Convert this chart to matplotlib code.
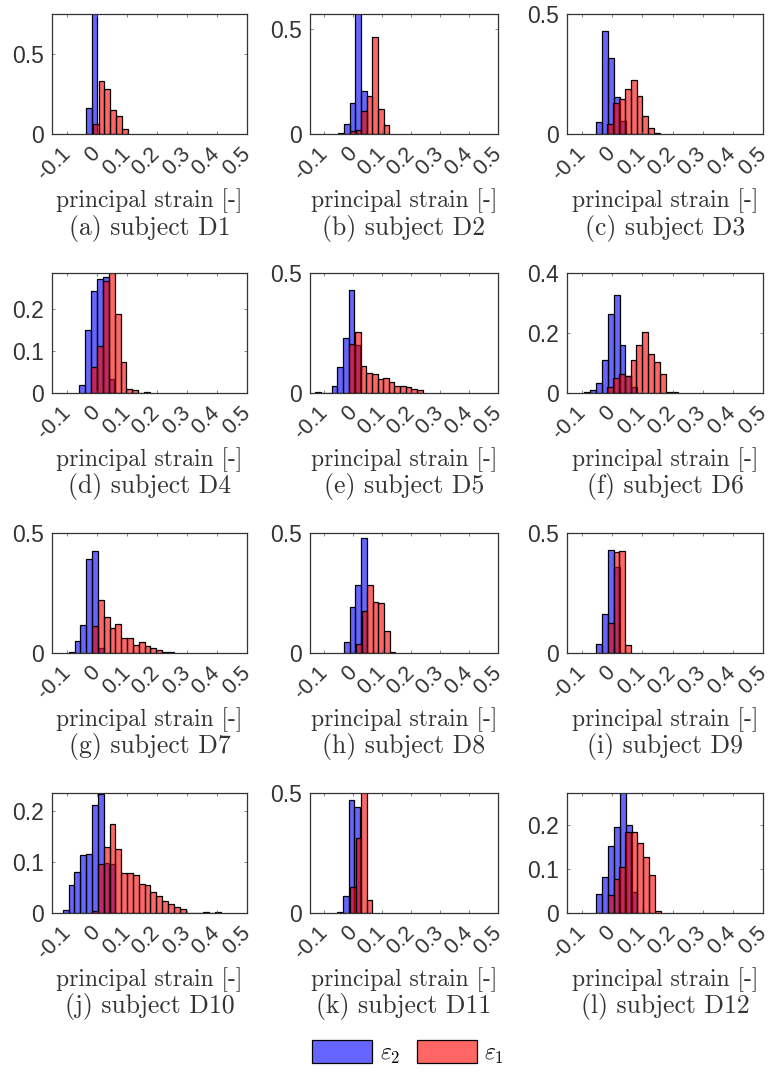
import matplotlib.pyplot as plt
from matplotlib.patches import Patch

plt.rcParams["mathtext.fontset"] = "cm"

BIN_W = 0.0195

# bin probabilities (histogram, probability normalisation); eps2 = min, eps1 = max principal strain
D1_E2 = [0.164, 0.836]
D1_E1 = [0.06, 0.33, 0.28, 0.147, 0.11, 0.034]
D2_E2 = [0.004, 0.048, 0.149, 0.595, 0.204]
D2_E1 = [0.015, 0.02, 0.109, 0.18, 0.463, 0.117, 0.045]
D3_E2 = [0.049, 0.43, 0.316, 0.154, 0.053]
D3_E1 = [0.04, 0.13, 0.145, 0.187, 0.226, 0.159, 0.074, 0.025, 0.003]
D4_E2 = [0.019, 0.151, 0.245, 0.273, 0.278, 0.034]
D4_E1 = [0.063, 0.112, 0.267, 0.29, 0.188, 0.073, 0.01, 0.006, 0.0, 0.003]
D5_E2 = [0.005, 0.0, 0.0, 0.03, 0.107, 0.228, 0.429, 0.2]
D5_E1 = [0.204, 0.256, 0.111, 0.083, 0.079, 0.058, 0.061, 0.047, 0.031, 0.031,
         0.024, 0.017, 0.0125]
D6_E2 = [0.004, 0.011, 0.035, 0.109, 0.265, 0.326, 0.16, 0.057, 0.019]
D6_E1 = [0.019, 0.049, 0.064, 0.057, 0.109, 0.16, 0.205, 0.131, 0.102, 0.063,
         0.004, 0.002]
D7_E2 = [0.004, 0.048, 0.115, 0.39, 0.424, 0.02]
D7_E1 = [0.113, 0.221, 0.149, 0.104, 0.12, 0.062, 0.062, 0.032, 0.044, 0.028,
         0.021, 0.011, 0.003, 0.003]
D8_E2 = [0.044, 0.19, 0.283, 0.479]
D8_E1 = [0.039, 0.173, 0.283, 0.214, 0.207, 0.09, 0.004]
D9_E2 = [0.039, 0.163, 0.431, 0.36]
D9_E1 = [0.124, 0.421, 0.425, 0.035]
D10_E2 = [0.0066, 0.055, 0.08, 0.115, 0.117, 0.213, 0.235, 0.098, 0.097]
D10_E1 = [0.003, 0.096, 0.129, 0.176, 0.125, 0.078, 0.079, 0.075, 0.058, 0.055,
          0.042, 0.034, 0.024, 0.018, 0.012, 0.007, 0.0, 0.0, 0.0, 0.002, 0.0, 0.002]
D11_E2 = [0.004, 0.071, 0.472, 0.441]
D11_E1 = [0.109, 0.311, 0.524, 0.056]
D12_E2 = [0.043, 0.081, 0.153, 0.195, 0.28, 0.2, 0.048]
D12_E1 = [0.04, 0.078, 0.105, 0.183, 0.183, 0.158, 0.128, 0.087, 0.004]

E2 = [D1_E2, D2_E2, D3_E2, D4_E2, D5_E2, D6_E2, D7_E2, D8_E2, D9_E2, D10_E2, D11_E2, D12_E2]
E1 = [D1_E1, D2_E1, D3_E1, D4_E1, D5_E1, D6_E1, D7_E1, D8_E1, D9_E1, D10_E1, D11_E1, D12_E1]

# left edge of the first bin of each histogram
E2_START = [-0.0378, -0.052, -0.053, -0.059, -0.133, -0.0925, -0.0944, -0.0326,
            -0.0528, -0.1144, -0.0556, -0.0528]
E1_START = [-0.0144, -0.012, -0.017, -0.019, -0.014, -0.0174, -0.0167, 0.0088,
            -0.015, -0.0167, -0.012, -0.015]

Y_TOP = [0.75, 0.57, 0.5, 0.287, 0.5, 0.4, 0.5, 0.5, 0.5, 0.236, 0.5, 0.272]
Y_TICKS = [[0, 0.5], [0, 0.5], [0, 0.5], [0, 0.1, 0.2], [0, 0.5], [0, 0.2, 0.4],
           [0, 0.5], [0, 0.5], [0, 0.5], [0, 0.1, 0.2], [0, 0.5], [0, 0.1, 0.2]]
X_TICKS = [-0.1, 0, 0.1, 0.2, 0.3, 0.4, 0.5]
X_LABELS = ["-0.1", "0", "0.1", "0.2", "0.3", "0.4", "0.5"]
LETTERS = "abcdefghijkl"

BLUE = (0, 0, 1)
RED = (1, 0, 0)
TEXT = "#333333"
SANS = "Liberation Sans"
SERIF = "cmr10"

W, H = 769, 1078
COL_LEFT = [52, 310, 567]
COL_W = [195, 188, 196]
ROW_TOP = [14, 273, 533, 793]
AX_H = 120

fig = plt.figure(figsize=(W / 100, H / 100), dpi=100)


def fmt(v):
    return "0" if v == 0 else f"{v:g}"


for i in range(12):
    r, c = divmod(i, 3)
    ax = fig.add_axes([COL_LEFT[c] / W, 1 - (ROW_TOP[r] + AX_H) / H, COL_W[c] / W, AX_H / H])

    for vals, start, col in ((E2[i], E2_START[i], BLUE), (E1[i], E1_START[i], RED)):
        lefts = [start + k * BIN_W for k in range(len(vals))]
        ax.bar(lefts, vals, width=BIN_W, align="edge", color=col, alpha=0.6,
               edgecolor="none")
        # opaque black outline on top of the translucent fill
        ax.bar(lefts, vals, width=BIN_W, align="edge", fill=False,
               edgecolor="black", linewidth=0.9)

    ax.set_xlim(-0.15, 0.5)
    ax.set_ylim(0, Y_TOP[i])
    ax.set_yticks(Y_TICKS[i])
    ax.set_yticklabels([fmt(v) for v in Y_TICKS[i]], fontsize=16.5, family=SANS, color=TEXT)
    ax.set_xticks(X_TICKS)
    ax.set_xticklabels(X_LABELS, fontsize=15.5, family=SANS, color=TEXT, rotation=45,
                       ha="right", va="center", rotation_mode="anchor")
    ax.tick_params(direction="in", length=2.5, width=0.5, colors="#555555",
                   top=True, right=True, pad=6)
    ax.tick_params(axis="x", pad=12)
    for lab in ax.get_xticklabels() + ax.get_yticklabels():
        lab.set_color(TEXT)
    for s in ax.spines.values():
        s.set_linewidth(0.9)
        s.set_color("#333333")

    ax.text(0.5, -67 / AX_H, "principal strain [-]", transform=ax.transAxes,
            ha="center", va="center", fontsize=17, family=SERIF, color=TEXT)
    ax.text(0.5, -94 / AX_H, f"({LETTERS[i]}) subject D{i + 1}", transform=ax.transAxes,
            ha="center", va="center", fontsize=18.5, family=SERIF, color=TEXT)

handles = [Patch(facecolor=(0.4, 0.4, 1.0), edgecolor="black", linewidth=0.9),
           Patch(facecolor=(1.0, 0.4, 0.4), edgecolor="black", linewidth=0.9)]
fig.legend(handles, [r"$\varepsilon_2$", r"$\varepsilon_1$"], loc="center",
           bbox_to_anchor=(408 / W, 1 - 1053 / H), ncol=2, frameon=False,
           fontsize=17, handlelength=2.55, handleheight=1.1, columnspacing=0.7,
           handletextpad=0.3)

fig.savefig("out.png", dpi=100)
